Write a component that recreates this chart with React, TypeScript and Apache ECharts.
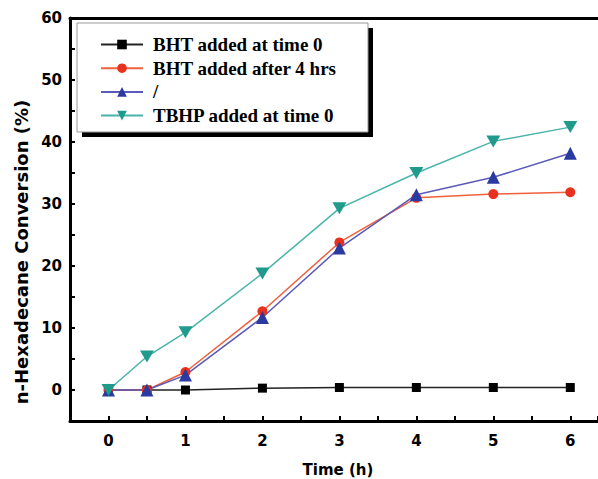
import React, { useEffect, useRef } from "react";
import * as echarts from "echarts";

const timeH = [0, 0.5, 1, 2, 3, 4, 5, 6];
const bhtTime0 = [0, 0, 0, 0.3, 0.4, 0.4, 0.4, 0.4];
const bhtAfter4 = [0, 0, 2.9, 12.7, 23.8, 31.0, 31.6, 31.9];
const slashSeries = [0, 0, 2.4, 11.7, 22.9, 31.5, 34.3, 38.2];
const tbhpTime0 = [0, 5.4, 9.3, 18.8, 29.3, 35.0, 40.1, 42.4];
const seriesNames = ["BHT added at time 0", "BHT added after 4 hrs", "/", "TBHP added at time 0"];
const xTitle = "Time (h)";
const yTitle = "n-Hexadecane Conversion (%)";

const pair = (ys: number[]) => timeH.map((x, i) => [x, ys[i]]);

export default function App() {
  const ref = useRef<HTMLDivElement>(null);
  useEffect(() => {
    if (!ref.current) return;
    const chart = echarts.init(ref.current, undefined, { renderer: "svg" });
    const axisFont = "DejaVu Sans";
    const invTri = "path://M0,0L20,0L10,17Z";
    chart.setOption({
      animation: false,
      backgroundColor: "#ffffff",
      grid: { left: 70, right: 0, top: 18, bottom: 58, containLabel: false, outerBoundsMode: "none" },
      graphic: [
        { type: "rect", z: 3, shape: { x: 82, y: 28, width: 291, height: 109 }, style: { fill: "#000" } },
        { type: "rect", z: 3, shape: { x: 77, y: 23, width: 291, height: 109 }, style: { fill: "#fff", stroke: "#999", lineWidth: 1 } },
        {
          type: "text",
          x: 21,
          y: 252,
          rotation: Math.PI / 2,
          style: {
            text: yTitle,
            fontFamily: axisFont,
            fontWeight: "bold",
            fontSize: 18,
            fill: "#000",
            align: "center",
            verticalAlign: "middle",
          },
        },
      ],
      legend: {
        z: 5,
        orient: "vertical",
        left: 100,
        top: 35,
        padding: 0,
        itemGap: 4.7,
        itemWidth: 42,
        itemHeight: 12,
        data: seriesNames,
        textStyle: {
          fontFamily: "Liberation Serif",
          fontWeight: "bold",
          fontSize: 19,
          lineHeight: 18,
          color: "#000",
          padding: [0, 0, 0, 5],
        },
      },
      xAxis: [
        {
          type: "value",
          min: -0.5,
          max: 6.36,
          interval: 0.5,
          name: xTitle,
          nameLocation: "middle",
          nameGap: 41,
          nameTextStyle: { fontFamily: axisFont, fontWeight: "bold", fontSize: 15, color: "#000", padding: [0, 0, 0, 8] },
          axisLine: { show: true, onZero: false, lineStyle: { color: "#000", width: 3 } },
          axisTick: { show: true, inside: true, length: 5, lineStyle: { color: "#000", width: 2 } },
          axisLabel: {
            margin: 12,
            fontFamily: axisFont,
            fontWeight: "bold",
            fontSize: 15,
            color: "#000",
            formatter: (v: number) => (Number.isInteger(v) && v >= 0 ? String(v) : ""),
          },
          splitLine: { show: false },
        },
        {
          type: "value",
          position: "top",
          min: -0.5,
          max: 6.36,
          axisLine: { show: true, onZero: false, lineStyle: { color: "#000", width: 3 } },
          axisTick: { show: false },
          axisLabel: { show: false },
          splitLine: { show: false },
        },
      ],
      yAxis: {
        type: "value",
        min: -5,
        max: 60,
        interval: 5,
        axisLine: { show: true, onZero: false, lineStyle: { color: "#000", width: 3 } },
        axisTick: { show: true, inside: true, length: 5, lineStyle: { color: "#000", width: 2 } },
        axisLabel: {
          margin: 8,
          fontFamily: axisFont,
          fontWeight: "bold",
          fontSize: 15,
          color: "#000",
          formatter: (v: number) => (v % 10 === 0 ? String(v) : ""),
        },
        splitLine: { show: false },
      },
      series: [
        {
          name: seriesNames[0],
          type: "line",
          data: pair(bhtTime0),
          symbol: "rect",
          symbolSize: 9,
          itemStyle: { color: "#000" },
          lineStyle: { color: "#222", width: 1.5 },
        },
        {
          name: seriesNames[1],
          type: "line",
          data: pair(bhtAfter4),
          symbol: "circle",
          symbolSize: 10,
          itemStyle: { color: "#e8321e" },
          lineStyle: { color: "#f0603c", width: 1.5 },
        },
        {
          name: seriesNames[2],
          type: "line",
          data: pair(slashSeries),
          symbol: "triangle",
          symbolSize: 13,
          itemStyle: { color: "#2a3aa0" },
          lineStyle: { color: "#5a5ab8", width: 1.5 },
        },
        {
          name: seriesNames[3],
          type: "line",
          data: pair(tbhpTime0),
          symbol: invTri,
          symbolSize: [14, 12],
          itemStyle: { color: "#1f9a8c" },
          lineStyle: { color: "#48b4aa", width: 1.5 },
        },
      ],
    });
    return () => chart.dispose();
  }, []);
  return (
    <div
      ref={ref}
      style={{ position: "fixed", left: 0, top: 0, width: 598, height: 479, background: "#fff" }}
    />
  );
}
